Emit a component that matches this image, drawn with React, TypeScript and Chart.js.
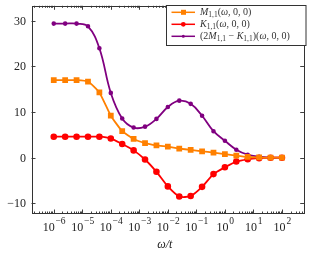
import React, { useEffect, useRef } from "react";
import { Chart, registerables } from "chart.js";
Chart.register(...registerables);

const omegaOverT = [
  1e-6, 2.512e-6, 6.31e-6, 1.585e-5, 3.981e-5, 1e-4, 2.512e-4, 6.31e-4, 1.585e-3, 3.981e-3,
  1e-2, 2.512e-2, 6.31e-2, 0.1585, 0.3981, 1, 2.512, 6.31, 15.85, 39.81, 100,
];
const mValues = [17.0, 17.0, 17.0, 16.7, 14.3, 9.2, 5.8, 4.1, 3.2, 2.7, 2.4, 2.0, 1.7, 1.4, 1.1, 0.8, 0.45, 0.15, 0.05, 0, 0];
const kValues = [4.6, 4.6, 4.6, 4.6, 4.6, 4.2, 3.0, 1.6, -0.4, -3.1, -6.3, -8.5, -8.4, -6.4, -3.6, -2.1, -0.85, -0.35, -0.1, 0, 0];
const diffValues = [29.4, 29.4, 29.4, 28.8, 24.0, 14.2, 8.6, 6.6, 6.8, 8.5, 11.1, 12.5, 11.8, 9.2, 5.8, 3.7, 1.75, 0.65, 0.2, 0, 0];
const xExponents = [-6, -5, -4, -3, -2, -1, 0, 1, 2];
const yTicks = [-10, 0, 10, 20, 30];

const ORANGE = "#ff8000";
const RED = "#ff0000";
const PURPLE = "#800080";
const SERIF = "'Liberation Serif', 'DejaVu Serif', serif";

type Part = [string, "it" | "rm" | "sub"];

function drawMath(ctx: CanvasRenderingContext2D, parts: Part[], x: number, y: number, size: number) {
  let cx = x;
  for (const [t, s] of parts) {
    if (s === "sub") {
      ctx.font = `${size * 0.75}px ${SERIF}`;
      ctx.fillText(t, cx, y + size * 0.25);
    } else {
      ctx.font = `${s === "it" ? "italic " : ""}${size}px ${SERIF}`;
      ctx.fillText(t, cx, y);
    }
    cx += ctx.measureText(t).width;
  }
  return cx;
}

const legendItems: { color: string; shape: string; parts: Part[] }[] = [
  { color: ORANGE, shape: "rect", parts: [["M", "it"], ["1,1", "sub"], ["(", "rm"], ["ω", "it"], [", 0, 0)", "rm"]] },
  { color: RED, shape: "circle", parts: [["K", "it"], ["1,1", "sub"], ["(", "rm"], ["ω", "it"], [", 0, 0)", "rm"]] },
  {
    color: PURPLE,
    shape: "small",
    parts: [["(2", "rm"], ["M", "it"], ["1,1", "sub"], [" − ", "rm"], ["K", "it"], ["1,1", "sub"], [")(", "rm"], ["ω", "it"], [", 0, 0)", "rm"]],
  },
];

const decorPlugin = {
  id: "decor",
  afterDatasetsDraw(chart: any) {
    const ctx: CanvasRenderingContext2D = chart.ctx;
    const { left, right, top, bottom } = chart.chartArea;
    const xs = chart.scales.x;
    const ys = chart.scales.y;
    ctx.save();
    ctx.strokeStyle = "#404040";
    ctx.fillStyle = "#222";
    ctx.lineWidth = 1;
    // x ticks
    for (let e = -7; e <= 2; e++) {
      for (let m = 1; m <= 9; m++) {
        const v = m * Math.pow(10, e);
        const px = xs.getPixelForValue(v);
        if (px < left + 0.5 || px > right - 0.5) continue;
        const len = m === 1 ? 4 : 2;
        const p = Math.round(px) + 0.5;
        ctx.beginPath();
        ctx.moveTo(p, bottom);
        ctx.lineTo(p, bottom - len);
        ctx.moveTo(p, top);
        ctx.lineTo(p, top + len);
        ctx.stroke();
      }
    }
    // y ticks
    for (const t of yTicks) {
      const py = Math.round(ys.getPixelForValue(t)) + 0.5;
      ctx.beginPath();
      ctx.moveTo(left, py);
      ctx.lineTo(left + 4, py);
      ctx.moveTo(right, py);
      ctx.lineTo(right - 4, py);
      ctx.stroke();
      ctx.font = `12px ${SERIF}`;
      ctx.textAlign = "right";
      ctx.textBaseline = "middle";
      ctx.fillText(t < 0 ? "−" + Math.abs(t) : String(t), left - 5.5, py + 0.5);
    }
    // border
    ctx.strokeStyle = "#333";
    ctx.strokeRect(Math.round(left) + 0.5, Math.round(top) + 0.5, Math.round(right - left) - 1, Math.round(bottom - top) - 1);
    // x labels
    ctx.textBaseline = "alphabetic";
    ctx.textAlign = "left";
    for (const e of xExponents) {
      const px = xs.getPixelForValue(Math.pow(10, e));
      ctx.font = `12px ${SERIF}`;
      const wb = ctx.measureText("10").width;
      const exp = e < 0 ? "−" + Math.abs(e) : String(e);
      ctx.font = `9.5px ${SERIF}`;
      const we = ctx.measureText(exp).width;
      const x0 = px - (wb + we) / 2;
      ctx.font = `12px ${SERIF}`;
      ctx.fillText("10", x0, 231);
      ctx.font = `9.5px ${SERIF}`;
      ctx.fillText(exp, x0 + wb + 0.8, 223.5);
    }
    // axis title
    ctx.font = `italic 12px ${SERIF}`;
    ctx.textAlign = "center";
    ctx.fillText("ω/t", (left + right) / 2 - 3, 248);
    // legend
    const lx = 166.5, ly = 5.5, lw = 139.5, lh = 40;
    ctx.fillStyle = "#fff";
    ctx.fillRect(lx, ly, lw, lh);
    ctx.strokeStyle = "#333";
    ctx.strokeRect(lx, ly, lw, lh);
    ctx.textAlign = "left";
    ctx.textBaseline = "middle";
    legendItems.forEach((it, i) => {
      const cy = 12.3 + i * 12;
      ctx.strokeStyle = it.color;
      ctx.fillStyle = it.color;
      ctx.lineWidth = 1.5;
      ctx.beginPath();
      ctx.moveTo(171.5, cy);
      ctx.lineTo(195, cy);
      ctx.stroke();
      if (it.shape === "rect") ctx.fillRect(181, cy - 2.5, 5, 5);
      else {
        ctx.beginPath();
        ctx.arc(183.3, cy, it.shape === "circle" ? 2.4 : 1.5, 0, Math.PI * 2);
        ctx.fill();
      }
      ctx.fillStyle = "#333";
      drawMath(ctx, it.parts, 200, cy + 0.5, 10);
    });
    ctx.restore();
  },
};

export default function App() {
  const ref = useRef<HTMLCanvasElement>(null);
  useEffect(() => {
    document.body.style.margin = "0";
    const chart = new Chart(ref.current!, {
      type: "line",
      data: {
        datasets: [
          {
            label: "M",
            data: omegaOverT.map((x, i) => ({ x, y: mValues[i] })),
            borderColor: ORANGE,
            backgroundColor: ORANGE,
            borderWidth: 1.8,
            pointStyle: "rect",
            pointRadius: 2.8,
            tension: 0.15,
          },
          {
            label: "K",
            data: omegaOverT.map((x, i) => ({ x, y: kValues[i] })),
            borderColor: RED,
            backgroundColor: RED,
            borderWidth: 1.8,
            pointStyle: "circle",
            pointRadius: 2.4,
            tension: 0.25,
          },
          {
            label: "2M-K",
            data: omegaOverT.map((x, i) => ({ x, y: diffValues[i] })),
            borderColor: PURPLE,
            backgroundColor: PURPLE,
            borderWidth: 1.8,
            pointStyle: "circle",
            pointRadius: 1.4,
            tension: 0.4,
          },
        ],
      },
      options: {
        responsive: false,
        animation: false,
        layout: { padding: { left: 31.5, right: 0.5, top: 0.5, bottom: 42.5 } },
        plugins: { legend: { display: false }, tooltip: { enabled: false } },
        scales: {
          x: { type: "logarithmic", display: false, min: Math.pow(10, -6.78), max: Math.pow(10, 2.78) },
          y: { type: "linear", display: false, min: -12.24, max: 33.3 },
        },
      },
      plugins: [decorPlugin],
    });
    return () => chart.destroy();
  }, []);
  return <canvas ref={ref} width={310} height={256} style={{ display: "block" }} />;
}
